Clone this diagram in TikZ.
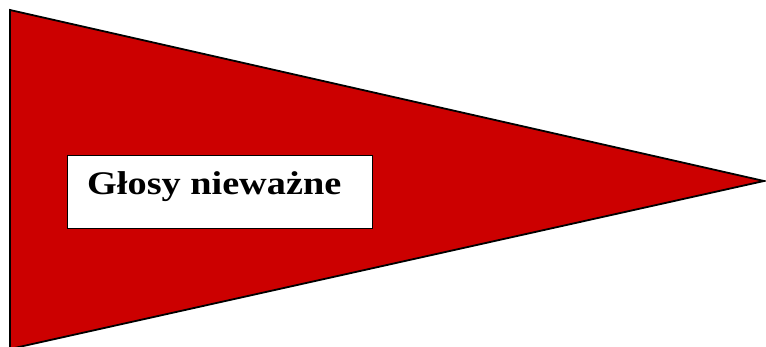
\documentclass[tikz,border=0pt]{standalone}
\usepackage{fontspec}
\setmainfont{Liberation Serif}[FakeStretch=1.16]
\usepackage{xcolor}
\usepackage{tikz}
\usetikzlibrary{positioning}

\definecolor{flagred}{RGB}{204,0,0}

\begin{document}
\begin{tikzpicture}[x=1pt, y=-1pt]
      \useasboundingbox (0, 0) rectangle (766, 347);
      \clip (0, 0) rectangle (766, 347);

      % Pennant
      \coordinate (top) at (10, 10);
      \coordinate (tip) at (764, 181);
      \coordinate (bottom) at (10, 349);
      \draw[fill=flagred, line width=1.8pt, line join=miter] (top) -- (tip) -- (bottom) -- cycle;

      % Label box
      \node[draw, fill=white, line width=1pt, anchor=north west, minimum width=305pt, minimum height=73pt, inner sep=0pt] (box) at (67, 155) {};
      \node[anchor=base west, inner sep=0pt, font=\fontsize{33}{38}\selectfont\bfseries] (label) at (87, 195) {Głosy nieważne};
    \end{tikzpicture}
\end{document}
